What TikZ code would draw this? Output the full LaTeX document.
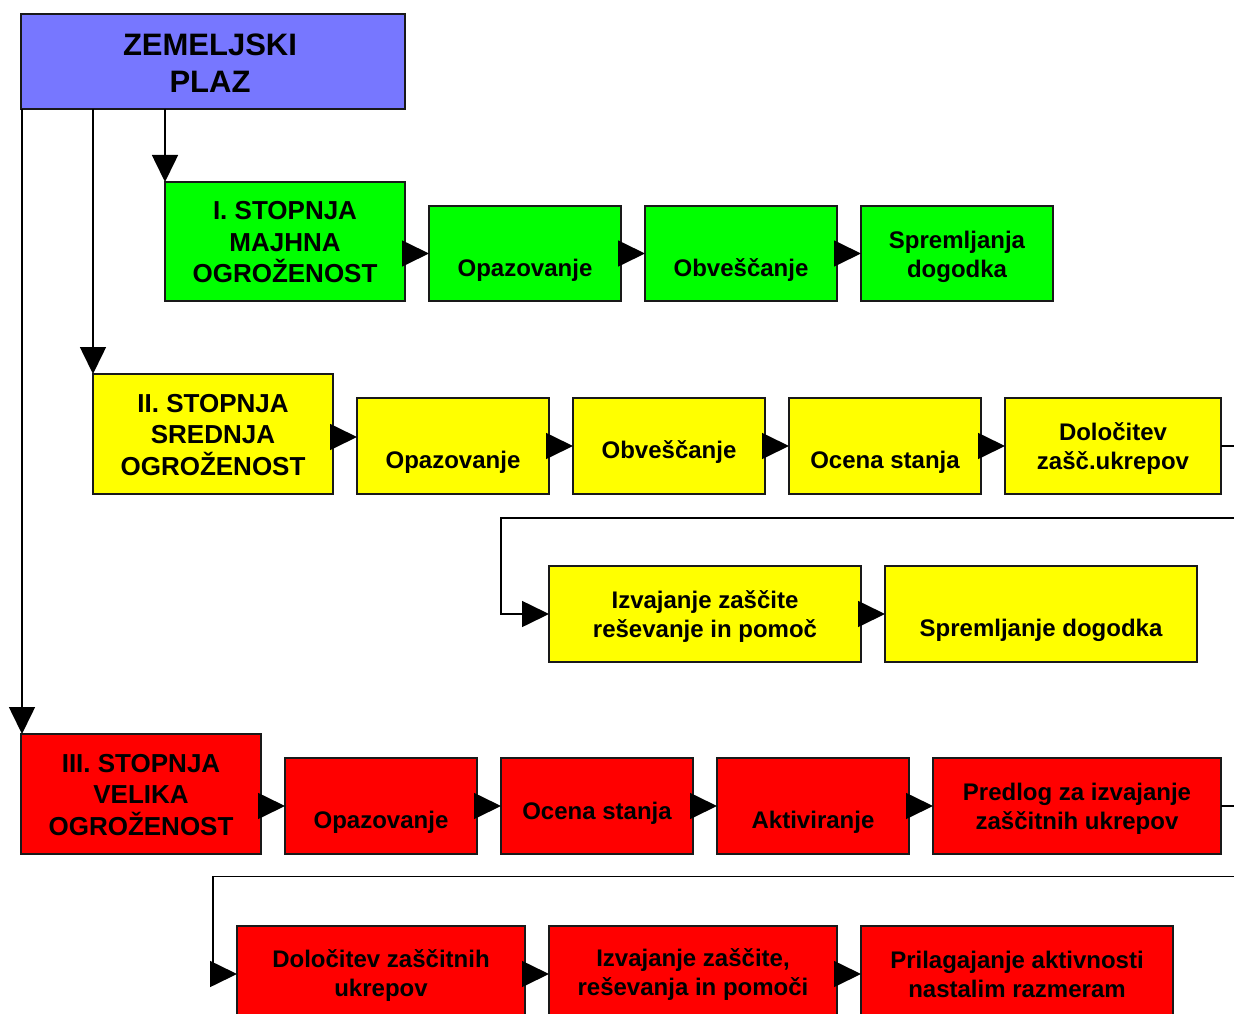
\documentclass[tikz,border=0pt]{standalone}
\usepackage{fontspec}
\setmainfont{Liberation Sans}
\usetikzlibrary{arrows.meta}
\definecolor{plaz}{RGB}{119,119,255}
\definecolor{grn}{RGB}{0,255,0}
\definecolor{ylw}{RGB}{255,255,0}
\definecolor{rd}{RGB}{255,0,0}
\begin{document}
\begin{tikzpicture}[x=1pt,y=-1pt,
  box/.style={draw=black!90, line width=2pt, anchor=north west, inner sep=0pt, outer sep=0pt},
  sbox/.style={box, minimum width=#1, minimum height=96pt},
  txt/.style={align=center, inner sep=0pt, yshift=-3pt, font=\bfseries\fontsize{24}{29}\selectfont},
  stxt/.style={align=center, inner sep=0pt, font=\bfseries\fontsize{26}{31.5}\selectfont},
  conn/.style={line width=1.6pt, black},
  arr/.style={conn, -{Triangle[length=27pt, width=26pt]}}
]
\useasboundingbox (0,0) rectangle (1234,1014);
\clip (0,0) rectangle (1234,1014);
\fill[white] (0,0) rectangle (1234,1014);

% top box
\node[box, fill=plaz, minimum width=384pt, minimum height=95pt] (top) at (21,14) {};
\node[align=center, inner sep=0pt, font=\bfseries\fontsize{31}{37}\selectfont] (topt) at (210,63) {ZEMELJSKI\\PLAZ};

% stage boxes
\node[box, fill=grn, minimum width=240pt, minimum height=119pt] (s1) at (165,182) {};
\node[stxt] (s1t) at (285,242.5) {I. STOPNJA\\MAJHNA\\OGROŽENOST};
\node[box, fill=ylw, minimum width=240pt, minimum height=120pt] (s2) at (93,374) {};
\node[stxt] (s2t) at (213,435) {II. STOPNJA\\SREDNJA\\OGROŽENOST};
\node[box, fill=rd, minimum width=240pt, minimum height=120pt] (s3) at (21,734) {};
\node[stxt] (s3t) at (141,795) {III. STOPNJA\\VELIKA\\OGROŽENOST};

% green row
\node[sbox=192pt, fill=grn, minimum height=95pt] (g1) at (429,206) {};
\node[txt] (g1t) at (525,267) {Opazovanje};
\node[sbox=192pt, fill=grn, minimum height=95pt] (g2) at (645,206) {};
\node[txt] (g2t) at (741,267) {Obveščanje};
\node[sbox=192pt, fill=grn, minimum height=95pt] (g3) at (861,206) {};
\node[txt] (g3t) at (957,254) {Spremljanja\\dogodka};

% yellow row
\node[sbox=192pt, fill=ylw] (y1) at (357,398) {};
\node[txt] (y1t) at (453,459) {Opazovanje};
\node[sbox=192pt, fill=ylw] (y2) at (573,398) {};
\node[txt] (y2t) at (669,449) {Obveščanje};
\node[sbox=192pt, fill=ylw] (y3) at (789,398) {};
\node[txt] (y3t) at (885,459) {Ocena stanja};
\node[sbox=216pt, fill=ylw] (y4) at (1005,398) {};
\node[txt] (y4t) at (1113,446) {Določitev\\zašč.ukrepov};
\node[sbox=312pt, fill=ylw] (y5) at (549,566) {};
\node[txt] (y5t) at (705,614) {Izvajanje zaščite\\reševanje in pomoč};
\node[sbox=312pt, fill=ylw] (y6) at (885,566) {};
\node[txt] (y6t) at (1041,627) {Spremljanje dogodka};

% red row
\node[sbox=192pt, fill=rd] (r1) at (285,758) {};
\node[txt] (r1t) at (381,819) {Opazovanje};
\node[sbox=192pt, fill=rd] (r2) at (501,758) {};
\node[txt] (r2t) at (597,810) {Ocena stanja};
\node[sbox=192pt, fill=rd] (r3) at (717,758) {};
\node[txt] (r3t) at (813,819) {Aktiviranje};
\node[sbox=288pt, fill=rd] (r4) at (933,758) {};
\node[txt] (r4t) at (1077,806) {Predlog za izvajanje\\zaščitnih ukrepov};
\node[sbox=288pt, fill=rd] (b1) at (237,926) {};
\node[txt] (b1t) at (381,973) {Določitev zaščitnih\\ukrepov};
\node[sbox=288pt, fill=rd] (b2) at (549,926) {};
\node[txt] (b2t) at (693,972) {Izvajanje zaščite,\\reševanja in pomoči};
\node[sbox=312pt, fill=rd] (b3) at (861,926) {};
\node[txt] (b3t) at (1017,971) {Prilagajanje aktivnosti\\nastalim razmeram};

% lanes from top
\coordinate (L1) at (22,0);
\coordinate (L2) at (93,0);
\coordinate (L3) at (165,0);
\draw[arr] (top.south -| L3) -- (s1.north -| L3);
\draw[arr] (top.south -| L2) -- (s2.north -| L2);
\draw[arr] (top.south -| L1) -- (s3.north -| L1);

% green arrows
\draw[arr] (s1.east |- g1.west) -- (g1.west);
\draw[arr] (g1.east) -- (g2.west);
\draw[arr] (g2.east) -- (g3.west);

% yellow arrows
\coordinate (yA) at (0,437);
\draw[arr] (s2.east |- yA) -- (y1.west |- yA);
\draw[arr] (y1.east) -- (y2.west);
\draw[arr] (y2.east) -- (y3.west);
\draw[arr] (y3.east) -- (y4.west);
\coordinate (ra1) at (1250,446);
\coordinate (ra2) at (1250,518);
\coordinate (ra3) at (501,518);
\draw[arr] (y4.east) -- (ra1) -- (ra2) -- (ra3) -- (ra3 |- y5.west) -- (y5.west);
\draw[arr] (y5.east) -- (y6.west);

% red arrows
\draw[arr] (s3.east |- r1.west) -- (r1.west);
\draw[arr] (r1.east) -- (r2.west);
\draw[arr] (r2.east) -- (r3.west);
\draw[arr] (r3.east) -- (r4.west);
\coordinate (rb1) at (1250,806);
\coordinate (rb2) at (1250,876.5);
\coordinate (rb3) at (213,876.5);
\draw[arr] (r4.east) -- (rb1) -- (rb2) -- (rb3) -- (rb3 |- b1.west) -- (b1.west);
\draw[arr] (b1.east) -- (b2.west);
\draw[arr] (b2.east) -- (b3.west);
\end{tikzpicture}
\end{document}
